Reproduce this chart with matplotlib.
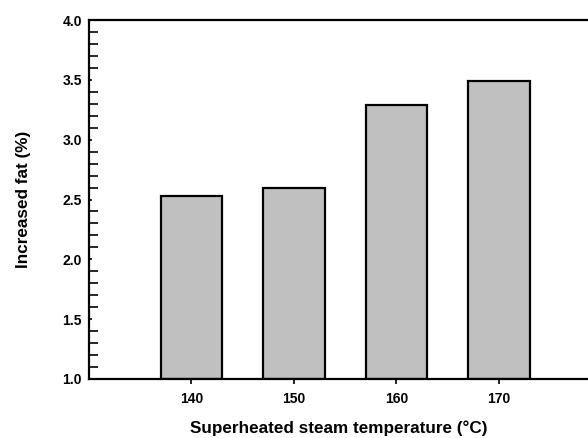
import matplotlib
matplotlib.use("Agg")
import matplotlib.pyplot as plt
from matplotlib.ticker import MultipleLocator

plt.rcParams['font.family'] = ['Liberation Sans', 'DejaVu Sans']

temperatures = [140, 150, 160, 170]
increased_fat = [2.53, 2.60, 3.29, 3.49]

fig = plt.figure(figsize=(5.88, 4.38), dpi=100)
ax = fig.add_axes([89 / 588, 59 / 438, 1 - 89 / 588, 359 / 438])

ax.bar(temperatures, [v - 1.0 for v in increased_fat], bottom=1.0, width=6,
       color='#c0c0c0', edgecolor='black', linewidth=1.6, zorder=2)

ax.set_xlim(130, 178.7)
ax.set_ylim(1.0, 4.0)
ax.set_xticks(temperatures)
ax.yaxis.set_major_locator(MultipleLocator(0.5))
ax.yaxis.set_minor_locator(MultipleLocator(0.1))
ax.yaxis.set_major_formatter(plt.FormatStrFormatter('%.1f'))

ax.spines['right'].set_visible(False)
for side in ('left', 'bottom', 'top'):
    ax.spines[side].set_linewidth(1.6)

ax.tick_params(axis='y', which='major', direction='in', length=2.5,
               width=1.2, labelsize=10, pad=5)
ax.tick_params(axis='y', which='minor', direction='in', length=6.5,
               width=1.2)
ax.tick_params(axis='x', which='major', direction='out', length=3.5,
               width=1.2, labelsize=10, pad=6)
for lab in ax.get_xticklabels() + ax.get_yticklabels():
    lab.set_fontweight('bold')

ax.set_xlabel('Superheated steam temperature (°C)', fontsize=12.3,
              fontweight='bold', labelpad=10)
ax.set_ylabel('Increased fat (%)', fontsize=12.3, fontweight='bold',
              labelpad=23)

fig.savefig('out.png', dpi=100)
